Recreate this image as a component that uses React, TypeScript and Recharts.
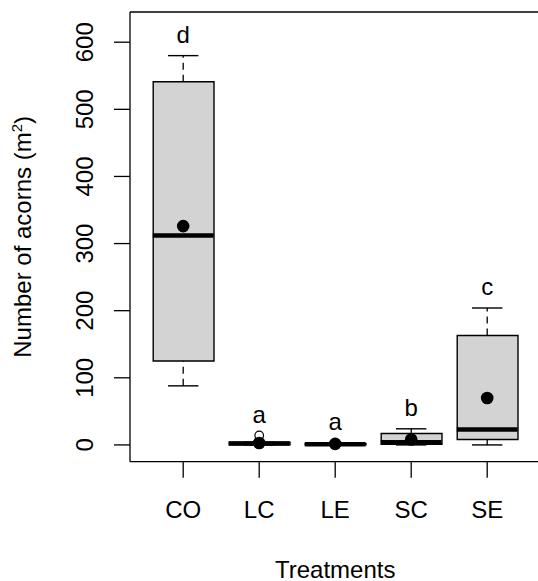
import { ComposedChart, Bar, Scatter, ErrorBar, XAxis, YAxis, ReferenceLine } from 'recharts';

const TREATMENTS = ['CO', 'LC', 'LE', 'SC', 'SE'];
const LOWER = [88, 0, 0, 0, 0];
const Q1 = [125, 0, 0, 1, 8];
const MEDIAN = [312, 2, 1, 4, 23];
const Q3 = [541, 4, 2, 17, 163];
const UPPER = [580, 4, 3, 24, 204];
const MEAN = [326, 2.8, 1.6, 8, 70];
const LETTERS = ['d', 'a', 'a', 'b', 'c'];
const OUTLIER_GROUPS = ['LC'];
const OUTLIER_VALUES = [14];
const Y_TICKS = [0, 100, 200, 300, 400, 500, 600];

const FONT = '"Liberation Sans", Arial, sans-serif';
const BOX_W = 60.8;
const CAP_W = 30.4;

const outliers = OUTLIER_GROUPS.map((name, i) => ({ name, value: OUTLIER_VALUES[i] }));

const data = TREATMENTS.map((name, i) => ({
  name,
  lo: LOWER[i],
  q1: Q1[i],
  med: MEDIAN[i],
  q3: Q3[i],
  hi: UPPER[i],
  mean: MEAN[i],
  letter: LETTERS[i],
  top: Math.max(UPPER[i], ...outliers.filter((o) => o.name === name).map((o) => o.value)),
}));

const hLine = (w: number, sw: number) => (p: any) => (
  <line x1={p.cx - w / 2} x2={p.cx + w / 2} y1={p.cy} y2={p.cy} stroke="#000" strokeWidth={sw} />
);

const XTick = ({ x, y, payload }: any) => (
  <text x={x} y={y + 38} textAnchor="middle" fontSize={24} fontFamily={FONT} fill="#000">
    {payload.value}
  </text>
);

const YTick = ({ x, y, payload }: any) => (
  <text
    x={x - 18.7}
    y={y}
    transform={`rotate(-90, ${x - 18.7}, ${y})`}
    textAnchor="middle"
    fontSize={24}
    fontFamily={FONT}
    fill="#000"
  >
    {payload.value}
  </text>
);

const YTitle = ({ viewBox }: any) => {
  const bx = viewBox.x - 39;
  const cy = viewBox.y + viewBox.height / 2;
  return (
    <text x={bx} y={cy} transform={`rotate(-90, ${bx}, ${cy})`} textAnchor="middle" fontSize={24} fontFamily={FONT} fill="#000">
      Number of acorns (m
      <tspan dy={-9} fontSize={15}>2</tspan>
      <tspan dy={9}>)</tspan>
    </text>
  );
};

const XTitle = ({ viewBox }: any) => (
  <text x={viewBox.x + viewBox.width / 2} y={viewBox.y + 116} textAnchor="middle" fontSize={24} fontFamily={FONT} fill="#000">
    Treatments
  </text>
);

export default function App() {
  return (
    <div style={{ position: 'fixed', left: 0, top: 0, width: 538, height: 581, overflow: 'hidden', background: '#fff' }}>
      <ComposedChart width={541} height={581} data={data} margin={{ top: 12, right: 0.6, bottom: 59.3, left: 70 }}>
        <XAxis
          dataKey="name"
          type="category"
          allowDuplicatedCategory={false}
          padding={{ left: 15.2, right: 15.2 }}
          height={60}
          tickSize={16}
          tickMargin={2}
          axisLine={{ stroke: '#000', strokeWidth: 1.3 }}
          tickLine={{ stroke: '#000', strokeWidth: 1.3 }}
          tick={<XTick />}
          label={{ content: XTitle }}
        />
        <YAxis
          type="number"
          domain={[-25, 645]}
          ticks={Y_TICKS}
          width={60}
          tickSize={16}
          tickMargin={2}
          axisLine={{ stroke: '#000', strokeWidth: 1.3 }}
          tickLine={{ stroke: '#000', strokeWidth: 1.3 }}
          tick={<YTick />}
          label={{ content: YTitle }}
        />
        <ReferenceLine y={645} stroke="#000" strokeWidth={1.3} />
        <Bar
          dataKey={(d: any) => [d.q1, d.q3]}
          barSize={BOX_W}
          fill="#d3d3d3"
          stroke="#000"
          strokeWidth={1.4}
          isAnimationActive={false}
        />
        <Scatter dataKey="hi" shape={hLine(CAP_W, 1.4)} isAnimationActive={false}>
          <ErrorBar
            dataKey={(d: any) => [d.hi - d.q3, 0]}
            direction="y"
            width={0}
            stroke="#000"
            strokeWidth={1.3}
            strokeDasharray="7 5"
            isAnimationActive={false}
          />
        </Scatter>
        <Scatter dataKey="lo" shape={hLine(CAP_W, 1.4)} isAnimationActive={false}>
          <ErrorBar
            dataKey={(d: any) => [0, d.q1 - d.lo]}
            direction="y"
            width={0}
            stroke="#000"
            strokeWidth={1.3}
            strokeDasharray="7 5"
            isAnimationActive={false}
          />
        </Scatter>
        <Scatter dataKey="med" shape={hLine(BOX_W, 4.5)} isAnimationActive={false} />
        <Scatter
          data={outliers}
          dataKey="value"
          shape={(p: any) => <circle cx={p.cx} cy={p.cy} r={4.3} fill="none" stroke="#000" strokeWidth={1.2} />}
          isAnimationActive={false}
        />
        <Scatter
          dataKey="mean"
          shape={(p: any) => <circle cx={p.cx} cy={p.cy} r={6.3} fill="#000" />}
          isAnimationActive={false}
        />
        <Scatter
          dataKey="top"
          shape={(p: any) => (
            <text x={p.cx} y={p.cy - 12.5} textAnchor="middle" fontSize={24} fontFamily={FONT} fill="#000">
              {p.payload.letter}
            </text>
          )}
          isAnimationActive={false}
        />
      </ComposedChart>
    </div>
  );
}
